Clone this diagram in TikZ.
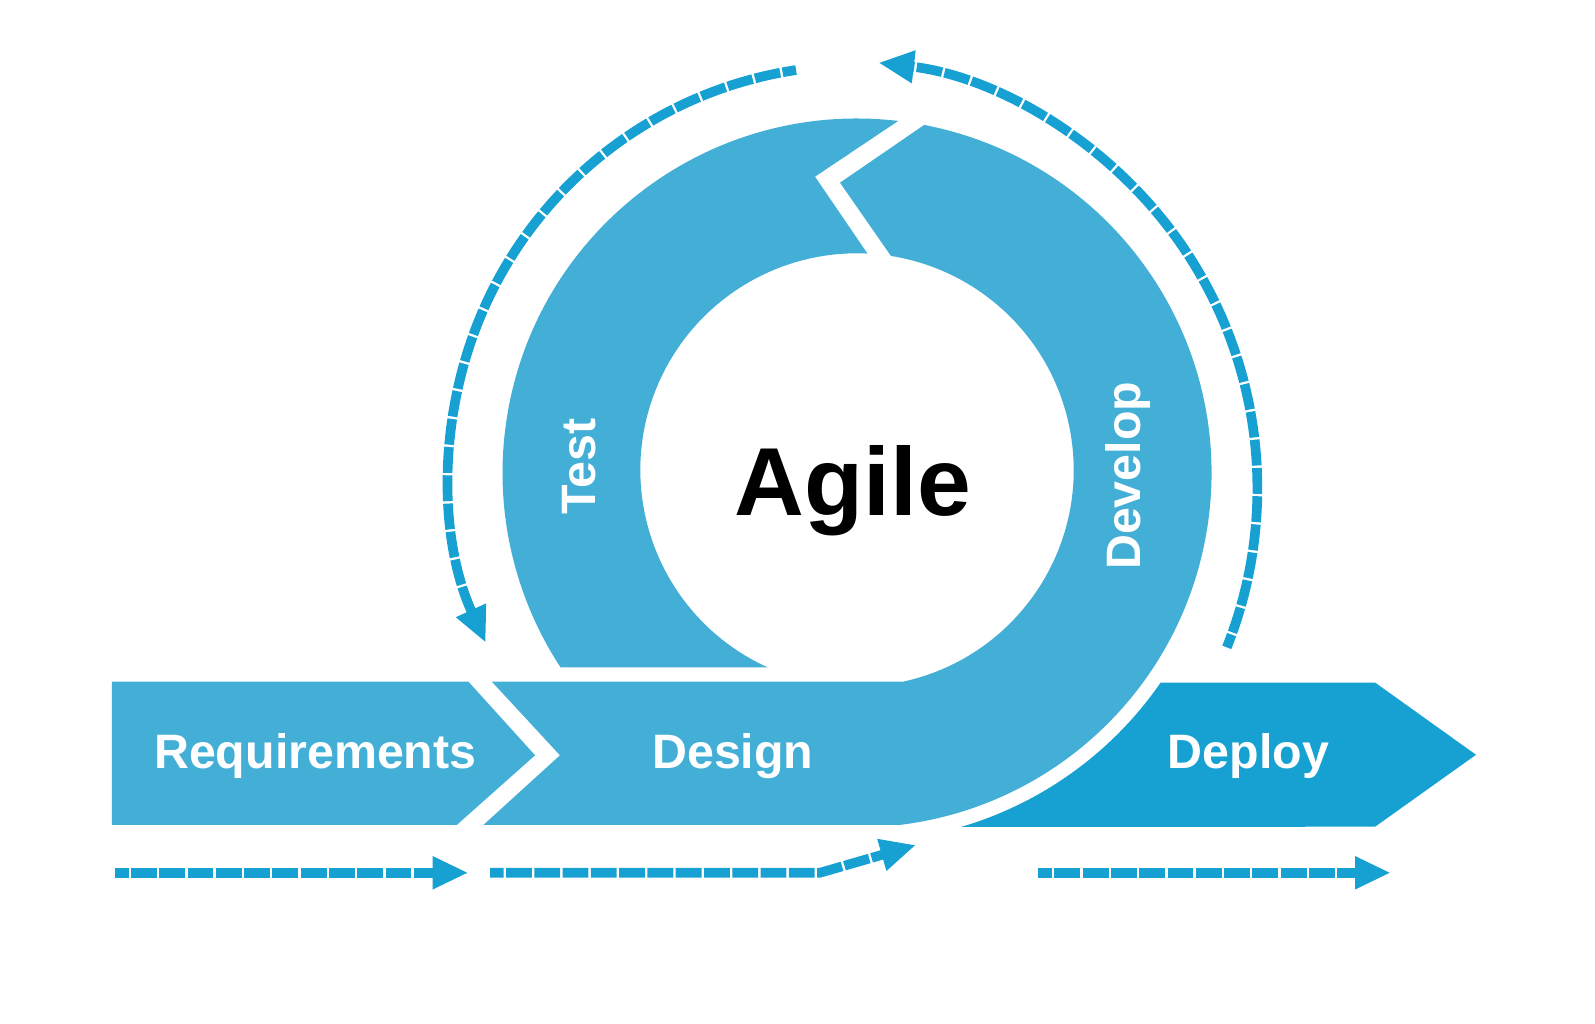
\documentclass[tikz,border=0pt]{standalone}
\usepackage{fontspec}
\setmainfont{Liberation Sans}
\usetikzlibrary{arrows.meta}
\definecolor{ringblue}{HTML}{43AFD6}
\definecolor{deepblue}{HTML}{16A1D2}
\begin{document}
\begin{tikzpicture}[x=1pt,y=-1pt,
  flow/.style={draw=deepblue, line width=9.5pt, dash pattern=on 25.4pt off 2.4pt, dash phase=12pt,
    -{Triangle[length=35pt,width=30pt]}},
  lbl/.style={text=white, font=\fontsize{47.5}{50}\selectfont\bfseries, inner sep=0pt, anchor=base},
  title/.style={text=black, font=\fontsize{95}{100}\selectfont\bfseries, inner sep=0pt, anchor=base}]
\useasboundingbox (0,0) rectangle (1568,1006.5);

% ---- ring, left part (Test)
\fill[ringblue] (852.6,249) -- (801.2,173.7)
  -- ([shift={(842.5,465)}]-83.32:348.5)
  arc[start angle=-83.32, end angle=-213.23, radius=348.5]
  -- ([shift={(842.5,462)}]114.38:213)
  arc[start angle=114.38, end angle=272.71, radius=213] -- cycle;

% ---- ring, right part (Develop) merged with Design band
\fill[ringblue] (875.9,251.7) -- (825.8,179.6)
  -- ([shift={(842.5,465)}]-79.08:348.5)
  arc[start angle=-79.08, end angle=83.13, radius=348.5]
  -- (475.2,811) -- (550.5,742.5) -- (483.4,670)
  -- ([shift={(842.5,462)}]77.56:213)
  arc[start angle=77.56, end angle=-80.98, radius=213] -- cycle;

% ---- Requirements
\fill[ringblue] (110,670) -- (460.4,670) -- (526,742.5) -- (449,811) -- (110,811) -- cycle;

% ---- Deploy
\fill[deepblue] ([shift={(842.5,465)}]34.61:362.7) -- (1351.8,671) -- (1451,742) -- (1351.8,812.7)
  -- ([shift={(842.5,465)}]73.62:362.7)
  arc[start angle=73.62, end angle=34.61, radius=362.7] -- cycle;

% ---- labels
\node[lbl] (req) at (310,755.3) {Requirements};
\node[lbl] (des) at (720.5,755.3) {Design};
\node[lbl] (dep) at (1227.3,755.3) {Deploy};
\node[lbl, rotate=90] (tst) at (585,458.8) {Test};
\node[lbl, rotate=90] (dev) at (1120.7,467.8) {Develop};
\node[title] (agile) at (838.6,506.3) {Agile};

% ---- dashed arrows
\coordinate (a1s) at (113,858);
\coordinate (a1e) at (460.4,858);
\coordinate (a2s) at (481.7,858);
\coordinate (a2m) at (806,858);
\coordinate (a2e) at (900.5,830.7);
\coordinate (a3s) at (1020.8,858);
\coordinate (a3e) at (1367.2,858);
\coordinate (als) at ([shift={(842.6,465.5)}]-98.61:401.2);
\coordinate (ars) at ([shift={(814.8,480.1)}]21.78:421.3);

\draw[flow] (a1s) -- (a1e);
\draw[flow] (a2s) -- (a2m) -- (a2e);
\draw[flow] (a3s) -- (a3e);
\draw[flow] (als) arc[start angle=-98.61, end angle=-204.49, radius=401.2];
\draw[flow] (ars) arc[start angle=21.78, end angle=-83.36, radius=421.3];
\end{tikzpicture}
\end{document}
